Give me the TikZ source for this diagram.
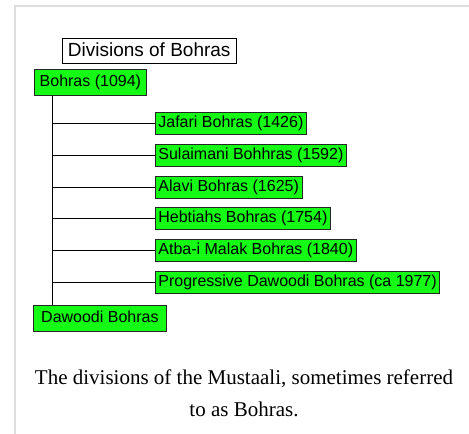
\documentclass[tikz,border=0pt]{standalone}
\usepackage{fontspec}
\setmainfont{Liberation Serif}
\setsansfont{Liberation Sans}
\usetikzlibrary{positioning}

\definecolor{boxgreen}{RGB}{20,250,20}
\definecolor{framegray}{RGB}{221,221,221}

\tikzset{
  box/.style={draw=black!85, fill=boxgreen, line width=0.8pt, inner xsep=3pt, inner ysep=3pt,
    text height=12pt, text depth=4pt, font=\sffamily\fontsize{16}{16}\selectfont},
  root/.style={box, anchor=north west, minimum height=26pt},
  branch/.style={box}
}

\begin{document}
\begin{tikzpicture}[x=1pt,y=-1pt,line width=0.8pt]
  \useasboundingbox (0,0) rectangle (469,434);
  \draw[framegray, line width=1.8pt] (15,434) -- (15,6) -- (469,6);

  \node[draw, fill=white, anchor=north west, inner xsep=5.5pt, inner ysep=4pt, text height=14pt, text depth=3pt,
        font=\sffamily\fontsize{19}{19}\selectfont]         (title)   at (62,38)   {Divisions of Bohras};
  \node[root, minimum width=112pt]                          (bohras)  at (34,69)   {Bohras (1094)};
  \node[branch, anchor=north west]                          (jafari)  at (155,112) {Jafari Bohras (1426)};
  \node[branch, below=9pt of jafari.south west, anchor=north west]    (sulaimani) {Sulaimani Bohhras (1592)};
  \node[branch, below=9pt of sulaimani.south west, anchor=north west] (alavi)     {Alavi Bohras (1625)};
  \node[branch, below=9pt of alavi.south west, anchor=north west]     (hebtiahs)  {Hebtiahs Bohras (1754)};
  \node[branch, below=9pt of hebtiahs.south west, anchor=north west]  (atba)      {Atba-i Malak Bohras (1840)};
  \node[branch, below=9pt of atba.south west, anchor=north west]      (progressive) {Progressive Dawoodi Bohras (ca 1977)};
  \node[root, minimum width=133pt]                          (dawoodi) at (33,305)  {Dawoodi Bohras};

  \coordinate (trunk) at ([xshift=18pt]bohras.south west);
  \draw (trunk) -- (trunk |- dawoodi.north);
  \foreach \n in {jafari,sulaimani,alavi,hebtiahs,atba,progressive}
    \draw (\n.west) -- (\n.west -| trunk);

  \node[anchor=base, align=center, font=\fontsize{21}{32}\selectfont] (caption) at (244,416)
    {The divisions of the Mustaali, sometimes referred\\to as Bohras.};
\end{tikzpicture}
\end{document}
